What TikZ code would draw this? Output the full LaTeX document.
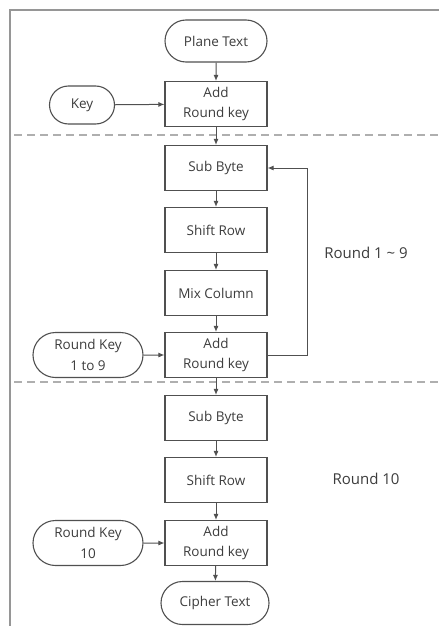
\documentclass[tikz,border=0pt]{standalone}
\usepackage{fontspec}
\setmainfont{Open Sans}
\usepackage{xcolor}
\definecolor{aesline}{RGB}{80,80,80}
\definecolor{aesframe}{RGB}{150,150,150}
\definecolor{aesdash}{RGB}{175,175,175}
\definecolor{aestext}{RGB}{60,60,60}
\usetikzlibrary{arrows.meta, positioning, shapes.misc}

\begin{document}
\begin{tikzpicture}[x=1pt, y=-1pt,
    stepbox/.style={draw=aesline, line width=1.1pt, rectangle, minimum width=102pt, minimum height=45pt,
      inner sep=0pt, align=center, text=aestext, font=\fontsize{13.5}{20.5}\selectfont},
    termbox/.style={draw=aesline, line width=1.1pt, rounded rectangle, minimum height=42pt,
      inner sep=0pt, align=center, text=aestext, font=\fontsize{13.5}{20.5}\selectfont},
    flow/.style={-{Latex[length=6pt, width=5pt]}, aesline, line width=1pt}]
  \useasboundingbox (0,0) rectangle (439,626);
  % Frame
  \draw[aesframe, line width=1.5pt] (10,626) -- (10,10) -- (439,10);
  % Round separators
  \draw[aesdash, line width=1.3pt, dash pattern=on 8pt off 5pt] (14,135) -- (439,135);
  \draw[aesdash, line width=1.3pt, dash pattern=on 8pt off 5pt] (14,382) -- (439,382);
  % Initial round
  \node[termbox, minimum width=102pt] (plain) at (216,41) {Plane Text};
  \node[stepbox] (add0) at (216,104) {Add\\Round key};
  \node[termbox, minimum width=65pt, minimum height=38pt] (key) at (82,105) {Key};
  % Round 1 ~ 9
  \node[stepbox] (sub1) at (216,168) {Sub Byte};
  \node[stepbox] (shift1) at (216,230) {Shift Row};
  \node[stepbox] (mix1) at (216,293) {Mix Column};
  \node[stepbox] (add1) at (216,355) {Add\\Round key};
  \node[termbox, minimum width=110pt, minimum height=45pt] (rkey1) at (88,355) {Round Key\\1 to 9};
  \coordinate (loop) at (307,168);
  \node[text=aestext, font=\fontsize{15}{17}\selectfont] (lab1) at (366,253) {Round 1 \textasciitilde{} 9};
  % Round 10
  \node[stepbox] (sub2) at (216,418) {Sub Byte};
  \node[stepbox] (shift2) at (216,480) {Shift Row};
  \node[stepbox] (add2) at (216,543) {Add\\Round key};
  \node[termbox, minimum width=110pt, minimum height=45pt] (rkey2) at (88,543) {Round Key\\10};
  \node[termbox, minimum width=108pt, minimum height=43pt] (cipher) at (215,603) {Cipher Text};
  \node[text=aestext, font=\fontsize{15}{17}\selectfont] (lab2) at (366,479) {Round 10};
  % Connectors
  \draw[flow] (plain) -- (add0);
  \draw[flow] (key) -- (add0);
  \draw[flow] (add0) -- (sub1);
  \draw[flow] (sub1) -- (shift1);
  \draw[flow] (shift1) -- (mix1);
  \draw[flow] (mix1) -- (add1);
  \draw[flow] (rkey1) -- (add1);
  \draw[flow] (add1.east) -| (loop) -- (sub1.east);
  \draw[flow] (add1) -- (sub2);
  \draw[flow] (sub2) -- (shift2);
  \draw[flow] (shift2) -- (add2);
  \draw[flow] (rkey2) -- (add2);
  \draw[flow] (add2) -- (cipher);
\end{tikzpicture}
\end{document}
